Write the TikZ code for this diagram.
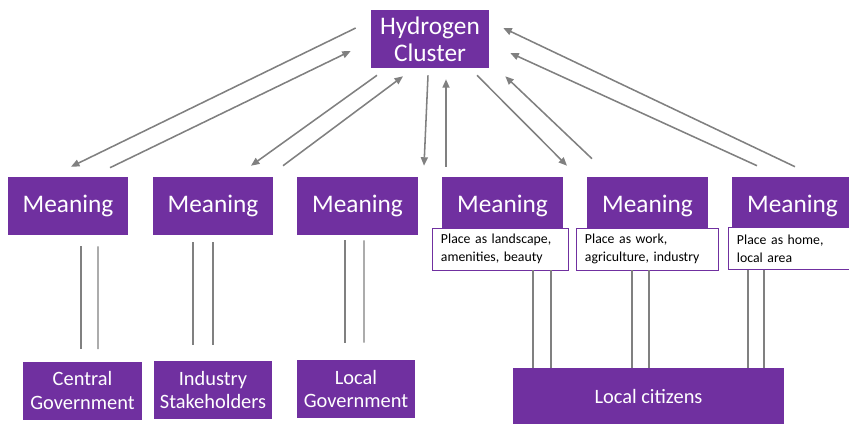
\documentclass[tikz,border=0pt]{standalone}
\usepackage{fontspec}
\setmainfont{Carlito}
\usetikzlibrary{arrows.meta,calc}
\definecolor{clusterpurple}{HTML}{7030A0}
\definecolor{arrowgray}{HTML}{808080}

\begin{document}
\begin{tikzpicture}[x=0.025cm,y=-0.025cm,
    box/.style={fill=clusterpurple,text=white,inner sep=0pt,align=center,minimum height=1.45cm},
    note/.style={draw=clusterpurple,line width=0.6pt,fill=white,inner xsep=0.225cm,inner ysep=0pt,
      align=left,minimum height=1.05cm,font=\fontsize{9.8}{12.8}\selectfont},
    arr/.style={draw=arrowgray,line width=1.1pt,-{Triangle[length=6pt,width=5pt]}},
    link/.style={draw=arrowgray,line width=1pt}]
    \useasboundingbox (0,0) rectangle (849,423);

    \node[box,minimum width=2.95cm,font=\fontsize{18}{19}\selectfont] (hc) at (430,39) {Hydrogen\\Cluster};

    \foreach \n/\x in {1/68,2/213,3/357.5,4/502.5,5/647.5,6/792.5}
      \node[box,minimum width=3cm,font=\fontsize{18}{22}\selectfont] (m\n) at (\x,206) {Meaning};

    \node[note,text width=2.95cm] (p4) at (500,249) {Place as landscape,\\amenities, beauty};
    \node[note,text width=3.1cm] (p5) at (647,249) {Place as work,\\agriculture, industry};
    \node[note,text width=3.1cm] (p6) at (799,248.5) {Place as home,\\local area};

    \node[box,minimum width=2.975cm,font=\fontsize{14.5}{17}\selectfont] (cg) at (82.5,390.5) {Central\\Government};
    \node[box,minimum width=2.95cm,font=\fontsize{14.5}{17}\selectfont] (is) at (213,390) {Industry\\Stakeholders};
    \node[box,minimum width=2.95cm,font=\fontsize{14.5}{17}\selectfont] (lg) at (356,389) {Local\\Government};
    \node[box,minimum width=6.775cm,minimum height=1.425cm,font=\fontsize{14.5}{17}\selectfont] (lc) at (648.5,396.5) {Local citizens};

    \draw[arr] ($(hc.west)+(-15,-11)$) -- ($(m1.north)+(3,-10)$);
    \draw[arr] ($(m1.north)+(42,-9)$) -- ($(hc.west)+(-20,12)$);
    \draw[arr] ($(hc.south)+(-53,7)$) -- ($(m2.north)+(38,-11)$);
    \draw[arr] ($(m2.north)+(70,-11)$) -- ($(hc.south)+(-27,8)$);
    \draw[arr] ($(hc.south)+(-2,7)$) -- ($(m3.north)+(66.5,-11)$);
    \draw[arr] ($(m4.north)+(-56.5,-10)$) -- ($(hc.south)+(16,11)$);
    \draw[arr] ($(hc.south)+(47,7)$) -- ($(m4.north)+(64.5,-11)$);
    \draw[arr] ($(m5.north)+(-55.5,-18)$) -- ($(hc.south east)+(16,8)$);
    \draw[arr] ($(m6.north)+(-35.5,-11)$) -- ($(hc.east)+(21,14)$);
    \draw[arr] ($(m6.north)+(2.5,-10)$) -- ($(hc.east)+(14,-11)$);

    \draw[link] ($(m1.south)+(13,11)$) -- ($(cg.north)+(-1.5,-12)$);
    \draw[link] ($(m1.south)+(30,11)$) -- ($(cg.north)+(15.5,-12)$);
    \draw[link] ($(m2.south)+(-20,7)$) -- ($(is.north)+(-20,-16)$);
    \draw[link] ($(m2.south)+(0,7)$) -- ($(is.north)+(0,-16)$);
    \draw[link] ($(m3.south)+(-12.5,5)$) -- ($(lg.north)+(-11,-17)$);
    \draw[link] ($(m3.south)+(6.5,5)$) -- ($(lg.north)+(8,-17)$);

    \draw[link] ($(p4.south)+(33,0)$) coordinate (a) -- (a |- lc.north);
    \draw[link] ($(p4.south)+(51,0)$) coordinate (a) -- (a |- lc.north);
    \draw[link] ($(p5.south)+(-15,0)$) coordinate (a) -- (a |- lc.north);
    \draw[link] ($(p5.south)+(2,0)$) coordinate (a) -- (a |- lc.north);
    \draw[link] ($(p6.south)+(-51,0)$) coordinate (a) -- (a |- lc.north);
    \draw[link] ($(p6.south)+(-35,0)$) coordinate (a) -- (a |- lc.north);
\end{tikzpicture}
\end{document}
